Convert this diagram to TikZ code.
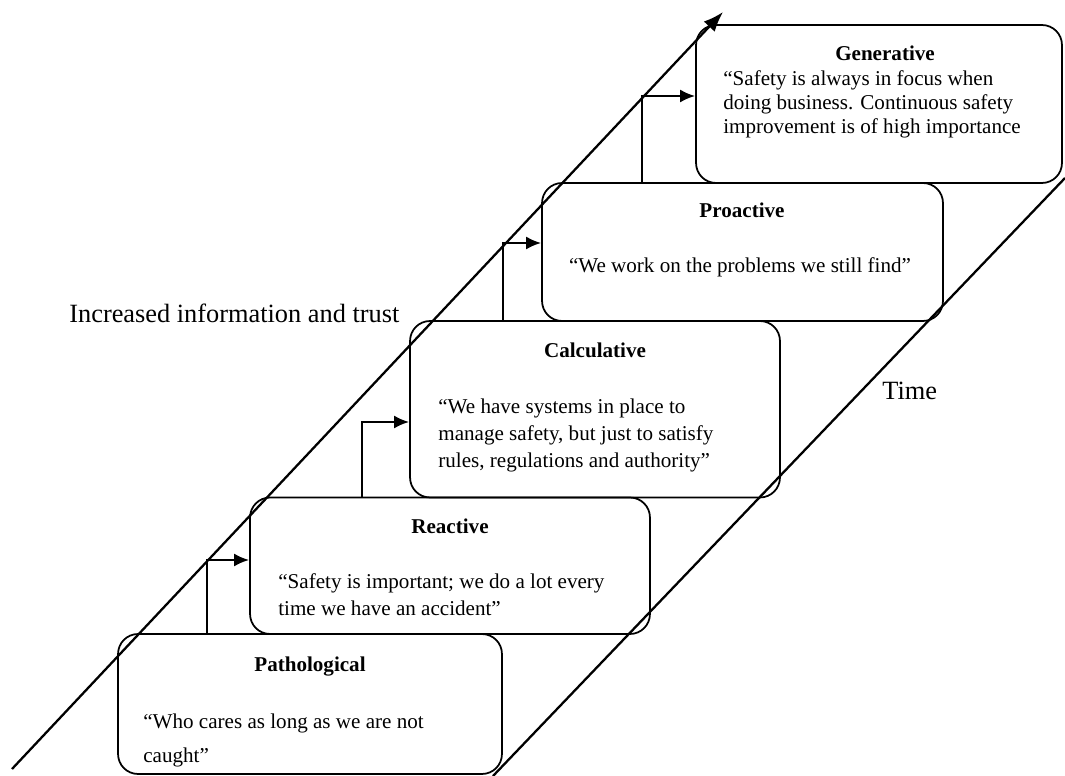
\documentclass[tikz,border=0pt]{standalone}
\usepackage{fontspec}
\setmainfont{Liberation Serif}
\usetikzlibrary{arrows.meta,calc}

\begin{document}
\begin{tikzpicture}[x=0.02cm,y=-0.02cm,
  box/.style={draw,line width=1pt,rounded corners=0.4cm,inner sep=0pt},
  boxtitle/.style={font=\fontsize{12}{14}\selectfont\bfseries,inner sep=0pt,anchor=base},
  boxquote/.style={font=\fontsize{12}{15.4}\selectfont,align=left,inner sep=0pt,anchor=base west},
  sidetext/.style={font=\fontsize{15}{18}\selectfont,inner sep=0pt,anchor=base west},
  slopeline/.style={line width=1.3pt},
  stepline/.style={line width=1.3pt,-{Latex[length=0.3cm,width=0.26cm]}}]
\useasboundingbox (0,0) rectangle (1065,776);
\coordinate (L0) at (12,769); \coordinate (L1) at (723,12); \coordinate (R0) at (493,776); \coordinate (R1) at (1065,178);
\draw[slopeline,-{Latex[length=0.4cm,width=0.3cm]}] (L0)--(L1);
\draw[slopeline] (R0)--(R1);
% the five levels
\foreach \n/\x/\y/\w/\h in {path/310/704/7.68/2.8, react/450/565.75/8.0/2.73, calc/595/409.25/7.4/3.53, proact/742.5/252/8.02/2.76, gen/879/104/7.32/3.16}{\node[box,minimum width=\w cm,minimum height=\h cm] (\n) at (\x,\y) {};}
\foreach \n/\x/\y/\t in {path/310/671/Pathological, react/450/534/Reactive, calc/595/358/Calculative, proact/742/218/Proactive, gen/885/61/Generative}{\node[boxtitle] (\n-title) at (\x,\y) {\t};}
% quotes sit on their last line
\node[boxquote] (path-quote) at (143,762) {``Who cares as long as we are not\\[3.4pt]caught''};
\node[boxquote] (react-quote) at (278,616) {``Safety is important; we do a lot every\\time we have an accident''};
\node[boxquote] (calc-quote) at (438,468) {``We have systems in place to\\manage safety, but just to satisfy\\rules, regulations and authority''};
\node[boxquote,anchor=base] (proact-quote) at (740,273) {``We work on the problems we still find''};
\node[boxquote,font=\fontsize{12}{13.7}\selectfont] (gen-quote) at (723,134) {``Safety is always in focus when\\doing business. Continuous safety\\improvement is of high importance};
% steps up
\foreach \i/\x/\yb/\yt/\n in {1/207/634/560/react, 2/362/497.5/422/calc, 3/503/321/243/proact, 4/642/183/96/gen}{\coordinate (s\i) at (\x,\yb); \coordinate (c\i) at (\x,\yt); \draw[stepline] (s\i)--(c\i)--(c\i -| \n.west);}
\node[sidetext] (trust) at (69,323) {Increased information and trust};
\node[sidetext] (time) at (882,400) {Time};
\end{tikzpicture}
\end{document}
